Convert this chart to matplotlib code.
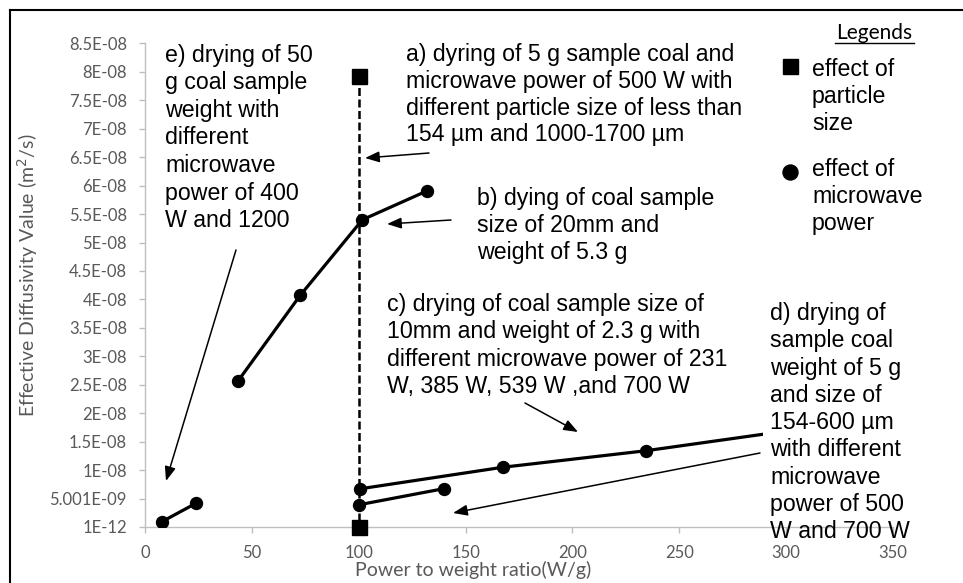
import matplotlib
matplotlib.use("Agg")
import matplotlib.pyplot as plt
from matplotlib.lines import Line2D
from matplotlib.patches import Rectangle, FancyArrowPatch

W, H = 963, 583

# a) effect of particle size (5 g, 500 W)
size_x = [100, 100]
size_y = [7.92e-08, 1e-12]

# effect of microwave power, x = power / weight (W/g)
b_x = [43.6, 72.6, 101.7, 132.1]
b_y = [2.57e-08, 4.07e-08, 5.40e-08, 5.91e-08]
c_x = [100.4, 167.4, 234.3, 304.3]
c_y = [6.7e-09, 1.05e-08, 1.34e-08, 1.71e-08]
d_x = [100, 140]
d_y = [3.9e-09, 6.75e-09]
e_x = [8, 24]
e_y = [9.5e-10, 4.2e-09]

x_ticks = [0, 50, 100, 150, 200, 250, 300, 350]
y_ticks = [1e-12, 5.001e-09, 1e-08, 1.5e-08, 2e-08, 2.5e-08, 3e-08, 3.5e-08,
           4e-08, 4.5e-08, 5e-08, 5.5e-08, 6e-08, 6.5e-08, 7e-08, 7.5e-08,
           8e-08, 8.5e-08]
y_labels = ["1E-12", "5.001E-09", "1E-08", "1.5E-08", "2E-08", "2.5E-08",
            "3E-08", "3.5E-08", "4E-08", "4.5E-08", "5E-08", "5.5E-08",
            "6E-08", "6.5E-08", "7E-08", "7.5E-08", "8E-08", "8.5E-08"]

txt_a = ["a) dyring of 5 g sample coal and", "microwave power of 500 W with",
         "different particle size of less than", "154 µm and 1000-1700 µm"]
txt_b = ["b) dying of coal sample", "size of 20mm and", "weight of 5.3 g"]
txt_c = ["c) drying of coal sample size of", "10mm and weight of 2.3 g with",
         "different microwave power of 231", "W, 385 W, 539 W ,and 700 W"]
txt_d = ["d) drying of", "sample coal", "weight of 5 g", "and size of",
         "154-600 µm", "with different", "microwave", "power of 500",
         "W and 700 W"]
txt_e = ["e) drying of 50", "g coal sample", "weight with", "different",
         "microwave", "power of 400", "W and 1200"]
leg_1 = ["effect of", "particle", "size"]
leg_2 = ["effect of", "microwave", "power"]

GREY = "#595959"
AXC = "#BFBFBF"
ANN_FONT = "Liberation Sans"
ANN_SIZE = 16.7


def fp(x, y):
    # pixel position (from top-left) to figure fraction
    return (x / W, 1 - y / H)


fig = plt.figure(figsize=(W / 100, H / 100), dpi=100)
ax = fig.add_axes([145 / W, 1 - 527 / H, (893 - 145) / W, (527 - 43.4) / H])

for xs, ys in [(c_x, c_y), (b_x, b_y), (d_x, d_y), (e_x, e_y)]:
    ax.plot(xs, ys, "-o", color="black", lw=2.3, ms=8.6, zorder=3)
ax.plot(size_x, size_y, "--s", color="black", lw=1.8, ms=10.8,
        dashes=(3.2, 1.4), zorder=4, clip_on=False)

ax.set_xlim(0, 350)
ax.set_ylim(0, 8.5e-08)
ax.set_xticks(x_ticks)
ax.set_yticks(y_ticks)
ax.set_yticklabels(y_labels)

for s in ["top", "right"]:
    ax.spines[s].set_visible(False)
for s in ["left", "bottom"]:
    ax.spines[s].set_color(AXC)
    ax.spines[s].set_linewidth(1.0)
ax.tick_params(axis="both", colors=AXC, labelcolor=GREY, length=4, width=1.0,
               labelsize=12, pad=9)
for lab in ax.get_xticklabels() + ax.get_yticklabels():
    lab.set_fontfamily("Lato")

fig.text(*fp(473, 570), "Power to weight ratio(W/g)", ha="center", va="center",
         color=GREY, fontsize=14, family="Lato")
fig.text(*fp(28, 275), "Effective Diffusivity Value (m$^2$/s)", ha="center",
         va="center", rotation=90, color=GREY, fontsize=14, family="Lato")

# white text box of d) hides the end of series c
fig.add_artist(Rectangle(fp(763, 520), 190 / W, 230 / H,
                         transform=fig.transFigure, facecolor="white",
                         edgecolor="none", zorder=2))


def block(lines, left, first, step=27.3):
    for i, t in enumerate(lines):
        fig.text(*fp(left, first + i * step + 8), t, ha="left", va="baseline",
                 fontsize=ANN_SIZE, family=ANN_FONT, color="black", zorder=3)


block(txt_a, 406, 53, 26.8)
block(txt_b, 477, 197, 27.0)
block(txt_c, 387, 303, 27.3)
block(txt_d, 770, 312, 27.3)
block(txt_e, 165, 53.6, 27.6)
block(leg_1, 812, 68, 27.0)
block(leg_2, 812, 168, 27.0)

arrows = [((429, 153), (365, 158)), ((451, 220), (387, 224)),
          ((525, 403), (578, 432)), ((760, 453), (453, 513)),
          ((236, 250), (166, 481))]
for start, tip in arrows:
    fig.add_artist(FancyArrowPatch(
        fp(*start), fp(*tip), transform=fig.transFigure,
        arrowstyle="-|>,head_length=0.86,head_width=0.33", mutation_scale=10,
        color="black", lw=1.1, shrinkA=0, shrinkB=0, zorder=4))

# legend
fig.text(*fp(874.5, 33), "Legends", ha="center", va="center", fontsize=15,
         family="Lato", color="black")
fig.add_artist(Line2D([835 / W, 914 / W], [1 - 43 / H, 1 - 43 / H],
                      transform=fig.transFigure, color="black", lw=1.0))
fig.add_artist(Line2D([790 / W], [1 - 66 / H], transform=fig.transFigure,
                      marker="s", ms=10.8, color="black", lw=0))
fig.add_artist(Line2D([790 / W], [1 - 172 / H], transform=fig.transFigure,
                      marker="o", ms=10.8, color="black", lw=0))

# outer frame (left and top edges)
fig.add_artist(Line2D([10 / W, 10 / W], [0, 1 - 10 / H],
                      transform=fig.transFigure, color="black", lw=1.5))
fig.add_artist(Line2D([10 / W, 1], [1 - 10 / H, 1 - 10 / H],
                      transform=fig.transFigure, color="black", lw=1.5))

fig.savefig("out.png", dpi=100)
